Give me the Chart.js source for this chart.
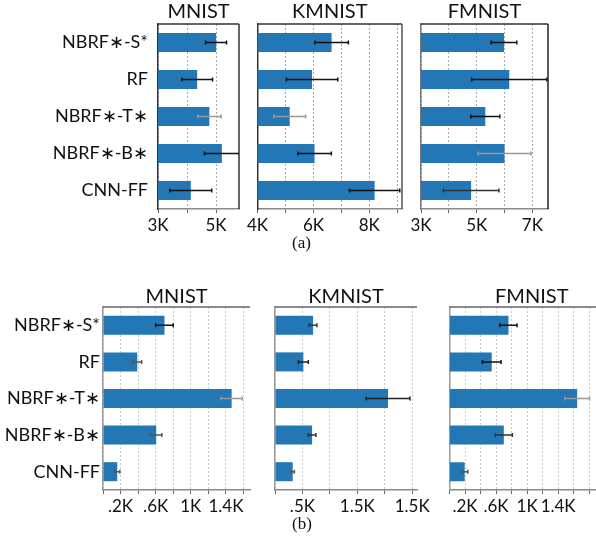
<!DOCTYPE html>
<html>
<head>
<meta charset="utf-8">
<script src="https://cdn.jsdelivr.net/npm/chart.js@4.4.0/dist/chart.umd.min.js"></script>
<style>
  body { margin: 0; background: #fff; width: 596px; height: 539px; overflow: hidden; position: relative; }
  canvas { position: absolute; }
  .cap { position: absolute; font-family: "Liberation Serif", serif; font-size: 17px; color: #111; }
</style>
</head>
<body>
<canvas id="aMnist" width="250" height="240" style="left:0;top:0"></canvas>
<canvas id="aKmnist" width="170" height="240" style="left:245px;top:0"></canvas>
<canvas id="aFmnist" width="188" height="240" style="left:408px;top:0"></canvas>
<canvas id="bMnist" width="260" height="235" style="left:0;top:280px"></canvas>
<canvas id="bKmnist" width="170" height="235" style="left:262px;top:280px"></canvas>
<canvas id="bFmnist" width="190" height="235" style="left:437px;top:280px"></canvas>
<div class="cap" style="left:292px;top:233px">(a)</div>
<div class="cap" style="left:292px;top:514px">(b)</div>
<script>
// categories (same for every panel)
const categories = ['NBRF\u2217-S*', 'RF', 'NBRF\u2217-T\u2217', 'NBRF\u2217-B\u2217', 'CNN-FF'];

// (a) values in K
const mnistA = [5.0, 4.35, 4.77, 5.2, 4.13];
const mnistAErr = [0.36, 0.53, 0.4, 0.6, 0.72];
const kmnistA = [6.65, 5.95, 5.15, 6.04, 8.19];
const kmnistAErr = [0.6, 0.92, 0.57, 0.6, 0.9];
const fmnistA = [5.98, 6.17, 5.31, 6.0, 4.8];
const fmnistAErr = [0.46, 1.35, 0.52, 0.95, 1.0];

// (b) values in K
const mnistB = [0.70, 0.39, 1.465, 0.606, 0.162];
const mnistBErr = [0.10, 0.05, 0.12, 0.065, 0.03];
const kmnistB = [0.694, 0.517, 2.06, 0.676, 0.323];
const kmnistBErr = [0.07, 0.09, 0.4, 0.07, 0.03];
const fmnistB = [0.76, 0.544, 1.645, 0.70, 0.196];
const fmnistBErr = [0.11, 0.12, 0.16, 0.11, 0.04];

// tick labels
const ticksAMnist = [[3, '3K'], [5, '5K']];
const ticksAKmnist = [[4, '4K'], [6, '6K'], [8, '8K']];
const ticksAFmnist = [[3, '3K'], [5, '5K'], [7, '7K']];
const ticksB = [[0.2, '.2K'], [0.6, '.6K'], [1, '1K'], [1.4, '1.4K']];
const ticksBKmnist = [[0.5, '.5K'], [1.5, '1.5K'], [2.5, '1.5K']];

const barColor = '#2277b4';
const fontFam = 'Lato, "Liberation Sans", sans-serif';

// error bars, drawn through the x scale
const errBars = {
  id: 'errBars',
  afterDatasetsDraw(chart, args, opts) {
    const ctx = chart.ctx, xs = chart.scales.x, a = chart.chartArea;
    const vals = chart.data.datasets[0].data;
    ctx.save();
    ctx.beginPath();
    ctx.rect(a.left, a.top, a.right - a.left, a.bottom - a.top);
    ctx.clip();
    chart.getDatasetMeta(0).data.forEach((bar, i) => {
      const x1 = xs.getPixelForValue(vals[i] - opts.errors[i]);
      const x2 = xs.getPixelForValue(vals[i] + opts.errors[i]);
      ctx.strokeStyle = opts.colors[i];
      ctx.lineWidth = 1.5;
      ctx.beginPath();
      ctx.moveTo(x1, bar.y); ctx.lineTo(x2, bar.y);
      ctx.moveTo(x1, bar.y - 2); ctx.lineTo(x1, bar.y + 2);
      ctx.moveTo(x2, bar.y - 2); ctx.lineTo(x2, bar.y + 2);
      ctx.stroke();
    });
    ctx.restore();
  }
};

// frame lines and panel title centred over the plot area
const frame = {
  id: 'frame',
  afterDraw(chart, args, opts) {
    const ctx = chart.ctx, a = chart.chartArea;
    ctx.save();
    ctx.lineWidth = 1.5;
    ctx.strokeStyle = opts.top;
    ctx.beginPath(); ctx.moveTo(a.left, a.top); ctx.lineTo(a.right, a.top); ctx.stroke();
    if (opts.right) {
      ctx.strokeStyle = opts.right;
      ctx.beginPath(); ctx.moveTo(a.right, a.top); ctx.lineTo(a.right, a.bottom); ctx.stroke();
    }
    ctx.fillStyle = '#111';
    ctx.font = '20px ' + fontFam;
    ctx.textAlign = 'center';
    ctx.textBaseline = 'middle';
    ctx.fillText(opts.title, (a.left + a.right) / 2, a.top - opts.titleGap);
    ctx.restore();
  }
};

function makePanel(p) {
  new Chart(document.getElementById(p.id), {
    type: 'bar',
    data: {
      labels: categories,
      datasets: [{ data: p.values, backgroundColor: barColor, borderWidth: 0,
                   barPercentage: 0.52, categoryPercentage: 1 }]
    },
    options: {
      indexAxis: 'y', responsive: false, animation: false,
      layout: { padding: { left: 0, right: p.padRight, top: p.padTop, bottom: 0 } },
      plugins: {
        legend: { display: false }, tooltip: { enabled: false }, title: { display: false },
        errBars: { errors: p.errors, colors: p.errColors },
        frame: { top: p.frameTop, right: p.frameRight, title: p.title, titleGap: p.titleGap }
      },
      scales: {
        x: {
          min: p.min, max: p.max,
          afterFit: s => { s.height = p.xH; },
          ticks: { stepSize: p.step, includeBounds: false, autoSkip: false, maxRotation: 0,
                   color: '#111', padding: 2, font: { family: fontFam, size: 17 },
                   callback: v => { const t = p.ticks.find(q => Math.abs(q[0] - v) < 1e-6); return t ? t[1] : ''; } },
          grid: { color: p.gridColor, tickLength: 4, tickColor: '#666' },
          border: { color: '#888', width: 1.5, dash: p.dash }
        },
        y: {
          afterFit: s => { s.width = p.yW; },
          ticks: { display: p.showY, color: '#111', padding: p.yPad, font: { family: fontFam, size: 18 } },
          grid: { display: false, drawTicks: false },
          border: { color: p.leftColor, width: 1.5 }
        }
      }
    },
    plugins: [errBars, frame]
  });
}

const K = '#111', G = '#999';
const topRow = { padTop: 24, titleGap: 12, xH: 31, gridColor: '#aaa', dash: [2, 2], yPad: 10,
                 frameTop: '#333', leftColor: '#333' };
const botRow = { padTop: 27, titleGap: 10, xH: 25, gridColor: '#ccc', dash: [2, 2], yPad: 3,
                 frameTop: '#666', leftColor: '#999', frameRight: null };

makePanel(Object.assign({}, topRow, { id: 'aMnist', title: 'MNIST', values: mnistA, errors: mnistAErr,
  errColors: [K, K, G, K, K], min: 3, max: 5.79, step: 1, ticks: ticksAMnist,
  yW: 158, padRight: 11, showY: true, frameRight: '#333' }));
makePanel(Object.assign({}, topRow, { id: 'aKmnist', title: 'KMNIST', values: kmnistA, errors: kmnistAErr,
  errColors: [K, K, G, K, K], min: 4, max: 9.17, step: 1, ticks: ticksAKmnist,
  yW: 12, padRight: 13, showY: false, frameRight: '#555' }));
makePanel(Object.assign({}, topRow, { id: 'aFmnist', title: 'FMNIST', values: fmnistA, errors: fmnistAErr,
  errColors: [K, K, K, G, '#333'], min: 3, max: 7.56, step: 1, ticks: ticksAFmnist,
  yW: 13, padRight: 48, showY: false, frameRight: '#222', leftColor: '#777' }));

makePanel(Object.assign({}, botRow, { id: 'bMnist', title: 'MNIST', values: mnistB, errors: mnistBErr,
  errColors: [K, '#555', G, '#555', '#555'], min: 0, max: 1.674, step: 0.2, ticks: ticksB,
  yW: 103, padRight: 10, showY: true }));
makePanel(Object.assign({}, botRow, { id: 'bKmnist', title: 'KMNIST', values: kmnistB, errors: kmnistBErr,
  errColors: ['#333', '#222', '#222', '#333', '#555'], min: 0, max: 2.59, step: 0.5, ticks: ticksBKmnist,
  yW: 13, padRight: 10, showY: false }));
makePanel(Object.assign({}, botRow, { id: 'bFmnist', title: 'FMNIST', values: fmnistB, errors: fmnistBErr,
  errColors: [K, K, G, '#333', '#555'], min: 0, max: 2.12, step: 0.2, ticks: ticksB,
  yW: 12.5, padRight: 13, showY: false }));
</script>
</body>
</html>
